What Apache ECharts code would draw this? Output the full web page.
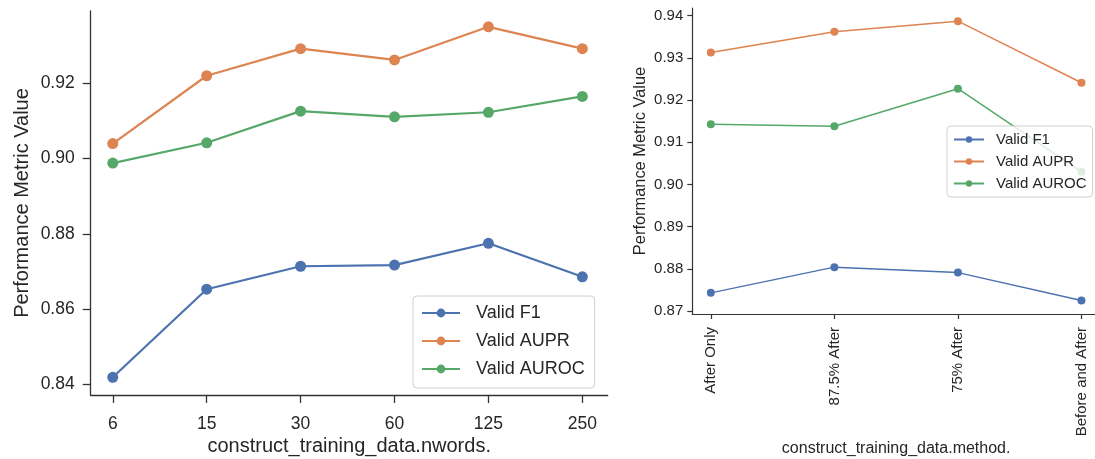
<!DOCTYPE html>
<html>
<head>
<meta charset="utf-8">
<title>Performance Metric Value</title>
<script src="https://cdn.jsdelivr.net/npm/echarts@6.0.0/dist/echarts.min.js"></script>
<style>
  html, body { margin: 0; padding: 0; background: #fff; }
  #chart { width: 1095px; height: 459px; }
</style>
</head>
<body>
<div id="chart"></div>
<script>
// left panel: nwords
var nwords = ["6", "15", "30", "60", "125", "250"];
var nwordsF1 = [0.8419, 0.8653, 0.8714, 0.8717, 0.8775, 0.8686];
var nwordsAUPR = [0.9040, 0.9220, 0.9292, 0.9262, 0.9350, 0.9292];
var nwordsAUROC = [0.8988, 0.9042, 0.9126, 0.9111, 0.9123, 0.9165];
var leftTicks = [0.84, 0.86, 0.88, 0.90, 0.92];

// right panel: method
var methods = ["After Only", "87.5% After", "75% After", "Before and After"];
var methodF1 = [0.8743, 0.8804, 0.8791, 0.8725];
var methodAUPR = [0.9313, 0.9362, 0.9387, 0.9241];
var methodAUROC = [0.9143, 0.9138, 0.9227, 0.9030];
var rightTicks = [0.87, 0.88, 0.89, 0.90, 0.91, 0.92, 0.93, 0.94];

var seriesNames = ["Valid F1", "Valid AUPR", "Valid AUROC"];
var colors = ["#4c72b0", "#dd8452", "#55a868"];

var textColor = "#262626";
var axisColor = "#333333";
var fontFamily = "Liberation Sans, Arial, sans-serif";

function toPoints(values) {
  var pts = [];
  for (var i = 0; i < values.length; i++) {
    pts.push([i, values[i]]);
  }
  return pts;
}

function indexList(arr) {
  var out = [];
  for (var i = 0; i < arr.length; i++) out.push(i);
  return out;
}

function makeSeries(name, color, values, idx, lineWidth, symbolSize) {
  return {
    name: name,
    type: "line",
    xAxisIndex: idx,
    yAxisIndex: idx,
    data: toPoints(values),
    symbol: "circle",
    symbolSize: symbolSize,
    showSymbol: true,
    color: color,
    lineStyle: { width: lineWidth, color: color },
    itemStyle: { color: color },
    emphasis: { disabled: true },
    animation: false,
    z: 2
  };
}

var chartDom = document.getElementById("chart");
var myChart = echarts.init(chartDom, null, { renderer: "canvas" });

var option = {
  backgroundColor: "#ffffff",
  textStyle: { fontFamily: fontFamily },
  animation: false,
  grid: [
    { left: 90.7, top: 11, width: 517, height: 384, containLabel: false, outerBoundsMode: "none" },
    { left: 692.3, top: 8, right: -5, height: 306, containLabel: false, outerBoundsMode: "none" }
  ],
  xAxis: [
    {
      gridIndex: 0,
      type: "value",
      min: -0.235,
      max: 5.27,
      name: "construct_training_data.nwords.",
      nameLocation: "middle",
      nameGap: 41,
      nameMoveOverlap: false,
      nameTextStyle: { color: textColor, fontSize: 20, fontFamily: fontFamily },
      splitLine: { show: false },
      axisLine: { show: true, onZero: false, lineStyle: { color: axisColor, width: 1.3 } },
      axisTick: { show: true, length: 8, customValues: indexList(nwords), lineStyle: { color: axisColor, width: 1.3 } },
      axisLabel: {
        customValues: indexList(nwords),
        color: textColor,
        fontSize: 17.5,
        margin: 20,
        formatter: function (v) { return nwords[Math.round(v)]; }
      }
    },
    {
      gridIndex: 1,
      type: "value",
      min: -0.15,
      max: 3.15,
      name: "construct_training_data.method.",
      nameLocation: "middle",
      nameGap: 127,
      nameMoveOverlap: false,
      nameTextStyle: { color: textColor, fontSize: 16, fontFamily: fontFamily },
      splitLine: { show: false },
      axisLine: { show: true, onZero: false, lineStyle: { color: axisColor, width: 1.2 } },
      axisTick: { show: true, length: 5, customValues: indexList(methods), lineStyle: { color: axisColor, width: 1.2 } },
      axisLabel: {
        customValues: indexList(methods),
        color: textColor,
        fontSize: 15,
        margin: 13,
        rotate: 90,
        formatter: function (v) { return methods[Math.round(v)]; }
      }
    }
  ],
  yAxis: [
    {
      gridIndex: 0,
      type: "value",
      min: 0.8372,
      max: 0.9392,
      name: "Performance Metric Value",
      nameLocation: "middle",
      nameGap: 58,
      nameMoveOverlap: false,
      nameTextStyle: { color: textColor, fontSize: 20, fontFamily: fontFamily },
      splitLine: { show: false },
      axisLine: { show: true, onZero: false, lineStyle: { color: axisColor, width: 1.3 } },
      axisTick: { show: true, length: 8, customValues: leftTicks, lineStyle: { color: axisColor, width: 1.3 } },
      axisLabel: {
        customValues: leftTicks,
        color: textColor,
        fontSize: 17.5,
        margin: 16,
        formatter: function (v) { return v.toFixed(2); }
      }
    },
    {
      gridIndex: 1,
      type: "value",
      min: 0.86929,
      max: 0.94183,
      name: "Performance Metric Value",
      nameLocation: "middle",
      nameGap: 44,
      nameMoveOverlap: false,
      nameTextStyle: { color: textColor, fontSize: 16.4, fontFamily: fontFamily },
      splitLine: { show: false },
      axisLine: { show: true, onZero: false, lineStyle: { color: axisColor, width: 1.2 } },
      axisTick: { show: true, length: 5, customValues: rightTicks, lineStyle: { color: axisColor, width: 1.2 } },
      axisLabel: {
        customValues: rightTicks,
        color: textColor,
        fontSize: 15,
        margin: 9,
        formatter: function (v) { return v.toFixed(2); }
      }
    }
  ],
  legend: [
    {
      // left legend
      seriesIndex: [0, 1, 2],
      data: seriesNames.map(function (n) { return { name: n }; }),
      orient: "vertical",
      left: 413,
      top: 296,
      width: 184,
      padding: [8, 10, 10, 8],
      itemGap: 10,
      itemWidth: 38,
      itemHeight: 11,
      borderColor: "#d0d0d0",
      borderWidth: 1,
      borderRadius: 4,
      backgroundColor: "rgba(255,255,255,0.8)",
      selectedMode: false,
      textStyle: { color: textColor, fontSize: 18, lineHeight: 18, padding: [0, 0, 0, 11], fontFamily: fontFamily }
    },
    {
      // right legend
      data: seriesNames.map(function (n) { return { name: n }; }),
      orient: "vertical",
      left: 947,
      top: 126,
      padding: [6, 6, 6, 6],
      itemGap: 7,
      itemWidth: 30,
      itemHeight: 8,
      borderColor: "#d0d0d0",
      borderWidth: 1,
      borderRadius: 4,
      backgroundColor: "rgba(255,255,255,0.8)",
      selectedMode: false,
      textStyle: { color: textColor, fontSize: 15, lineHeight: 15, padding: [0, 0, 0, 7], fontFamily: fontFamily }
    }
  ],
  series: [
    makeSeries(seriesNames[0], colors[0], nwordsF1, 0, 2.2, 11),
    makeSeries(seriesNames[1], colors[1], nwordsAUPR, 0, 2.2, 11),
    makeSeries(seriesNames[2], colors[2], nwordsAUROC, 0, 2.2, 11),
    makeSeries(seriesNames[0], colors[0], methodF1, 1, 1.5, 8),
    makeSeries(seriesNames[1], colors[1], methodAUPR, 1, 1.5, 8),
    makeSeries(seriesNames[2], colors[2], methodAUROC, 1, 1.5, 8)
  ]
};

myChart.setOption(option);
</script>
</body>
</html>
